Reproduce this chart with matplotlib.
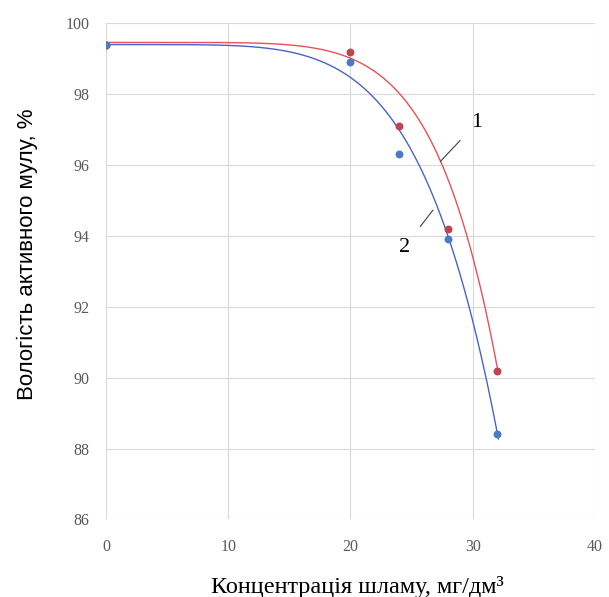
import numpy as np
import matplotlib.pyplot as plt

# концентрація шламу, мг/дм3
conc = [0, 20, 24, 28, 32]
# вологість активного мулу, % (точки)
moist_1 = [99.4, 99.2, 97.1, 94.2, 90.2]
moist_2 = [99.4, 98.9, 96.3, 93.9, 88.4]

# лінії тренду, значення
trend_x1 = [0, 5, 10, 14, 17, 20, 24.05, 25.95, 27.3, 29.2, 32.1]
trend_y1 = [99.42, 99.46, 99.46, 99.45, 99.35, 99.2, 98.2, 97.1, 96.05, 94.2, 90.2]
trend_x2 = [0, 5, 10, 16, 20, 24.05, 26.8, 27.9, 32.1]
trend_y2 = [99.38, 99.4, 99.35, 99.2, 98.7, 97.36, 94.73, 93.9, 88.38]


def power_fit(x, y):
    # y = a - k*(x/xmax)^n: a - плато на початку, n перебором, k - МНК
    xmax = max(x)
    u0 = np.asarray(x, float) / xmax
    y = np.asarray(y, float)
    a = y[np.asarray(x) <= 10].max()
    d = a - y
    best = None
    for n in np.linspace(2, 12, 1001):
        u = u0 ** n
        k = np.sum(d * u) / np.sum(u * u)
        err = np.sum((d - k * u) ** 2)
        if best is None or err < best[0]:
            best = (err, k, n)
    _, k, n = best
    return lambda t: a - k * (np.asarray(t) / xmax) ** n


fig = plt.figure(figsize=(6.09, 5.97), dpi=100)
ax = fig.add_axes([0.174, 0.130, 0.803, 0.831])

series = [
    (trend_x1, trend_y1, moist_1, '#bf4450', '#e8505a'),
    (trend_x2, trend_y2, moist_2, '#4a7cc0', '#4a62d0'),
]
for tx, ty, y, pc, lc in series:
    f = power_fit(tx, ty)
    xs = np.linspace(tx[0], tx[-1], 300)
    ax.plot(xs, f(xs), color=lc, lw=1.0, zorder=2)
    ax.scatter(conc, y, s=22, color=pc, zorder=3)

ax.set_xlim(0, 40)
ax.set_ylim(86, 100)
ax.set_xticks(range(0, 41, 10))
ax.set_yticks(range(86, 101, 2))
ax.grid(True, color='#d9d9d9', lw=0.8)
ax.set_axisbelow(True)
for s in ax.spines.values():
    s.set_visible(False)
ax.tick_params(length=0, labelsize=11.5, labelcolor='#595959')
ax.tick_params(axis='x', pad=14)
ax.tick_params(axis='y', pad=12)
for lbl in ax.get_xticklabels() + ax.get_yticklabels():
    lbl.set_family('Liberation Serif')

ax.set_xlabel('Концентрація шламу, мг/дм³', family='Liberation Serif', fontsize=17.5)
ax.xaxis.set_label_coords(0.515, -0.115)
ax.set_ylabel('Вологість активного мулу, %', family='Liberation Sans', fontsize=16)
ax.yaxis.set_label_coords(-0.14, 0.535)

ax.annotate('1', xy=(27.35, 96.1), xytext=(30.35, 97.2), fontsize=16, family='Liberation Serif',
            ha='center', va='center',
            arrowprops=dict(arrowstyle='-', color='#404040', lw=0.8, shrinkB=0, shrinkA=9))
ax.annotate('2', xy=(26.75, 94.73), xytext=(24.4, 93.68), fontsize=16, family='Liberation Serif',
            ha='center', va='center',
            arrowprops=dict(arrowstyle='-', color='#404040', lw=0.8, shrinkB=0, shrinkA=9))

fig.savefig('out.png', dpi=100)
